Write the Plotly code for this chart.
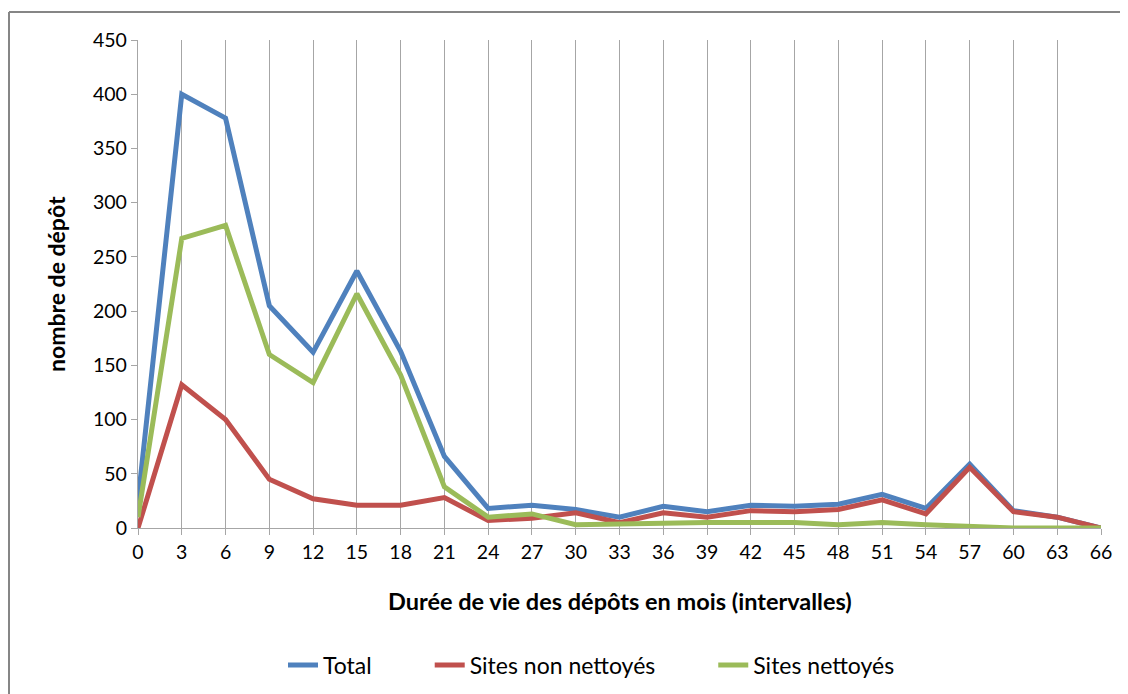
import plotly.graph_objects as go

months = [0, 3, 6, 9, 12, 15, 18, 21, 24, 27, 30, 33, 36, 39, 42, 45, 48, 51, 54, 57, 60, 63, 66]
total = [25, 400, 378, 205, 162, 237, 163, 66, 18, 21, 17, 10, 20, 15, 21, 20, 22, 31, 18, 59, 16, 10, 0]
non_nettoyes = [0, 132, 100, 45, 27, 21, 21, 28, 7, 9, 14, 5, 14, 10, 16, 15, 17, 26, 13, 56, 15, 10, 0]
nettoyes = [10, 267, 279, 160, 134, 216, 141, 38, 10, 13, 3, 4, 5, 5, 5, 5, 3, 5, 3, 1, 0, 0, 0]
y_ticks = [0, 50, 100, 150, 200, 250, 300, 350, 400, 450]

series = [
    ("Total", total, "#4F81BD"),
    ("Sites non nettoyés", non_nettoyes, "#C0504D"),
    ("Sites nettoyés", nettoyes, "#9BBB59"),
]

PAD = "\u00a0" * 9

fig = go.Figure()
for name, vals, color in series:
    fig.add_trace(go.Scatter(x=months, y=vals, name=name + PAD, mode="lines",
                             line=dict(color=color, width=5)))

# page has an 8px body margin: figure coords = page coords - 8
W, H = 1120, 686
L, R, T, B = 130, 27, 32, 166
pw, ph = W - L - R, H - T - B

def px(xp):
    return (xp - 8 - L) / pw

def py(yp):
    return (H - B - (yp - 8)) / ph

font = "Lato, Carlito, Calibri, sans-serif"
fig.update_layout(
    width=W, height=H,
    margin=dict(l=L, r=R, t=T, b=B, autoexpand=False),
    paper_bgcolor="white", plot_bgcolor="white",
    font=dict(family=font, size=18, color="#000000"),
    showlegend=True,
    legend=dict(orientation="h", x=px(283), xanchor="left", y=py(665), yanchor="middle",
                font=dict(size=23), tracegroupgap=0, bgcolor="rgba(0,0,0,0)"),
    xaxis=dict(range=[0, 66], tickmode="array", tickvals=months, ticktext=[str(m) for m in months],
               showgrid=True, gridcolor="#A6A6A6", gridwidth=1.3,
               showline=True, linecolor="#A6A6A6", linewidth=1.3,
               ticks="outside", ticklen=6, tickcolor="#A6A6A6", zeroline=False,
               tickfont=dict(size=19.5)),
    yaxis=dict(range=[0, 450], tickmode="array", tickvals=y_ticks,
               showgrid=False, showline=True, linecolor="#A6A6A6", linewidth=1.3,
               ticks="outside", ticklen=6, tickcolor="#A6A6A6", zeroline=False,
               tickfont=dict(size=19.5)),
    annotations=[
        dict(text="<b>Durée de vie des dépôts en mois (intervalles)</b>", xref="paper", yref="paper",
             x=px(620), y=py(601), xanchor="center", yanchor="middle", showarrow=False,
             font=dict(size=23.5)),
        dict(text="<b>nombre de dépôt</b>", xref="paper", yref="paper",
             x=px(56), y=py(284), xanchor="center", yanchor="middle", showarrow=False,
             textangle=-90, font=dict(size=23)),
    ],
    shapes=[
        dict(type="line", xref="paper", yref="paper", x0=px(9), x1=px(1150), y0=py(12), y1=py(12),
             line=dict(color="#868686", width=2)),
        dict(type="line", xref="paper", yref="paper", x0=px(9), x1=px(9), y0=py(12), y1=py(720),
             line=dict(color="#868686", width=2)),
    ],
)

fig.write_html("out.html")
